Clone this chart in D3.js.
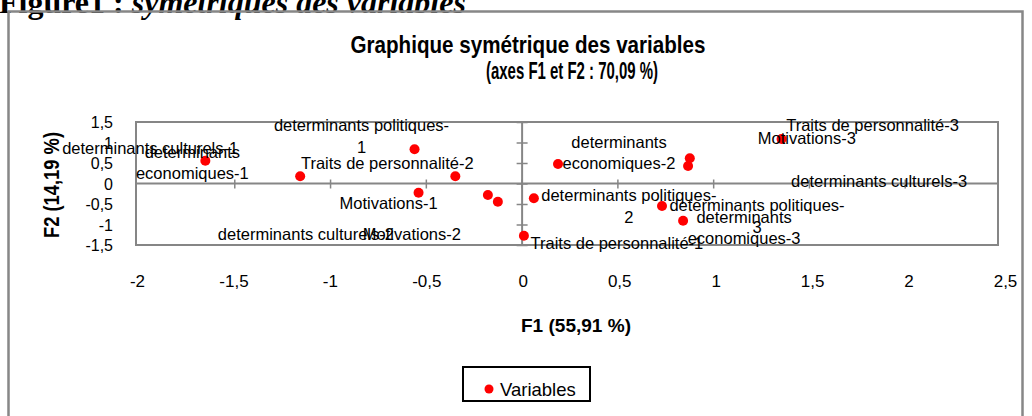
<!DOCTYPE html>
<html>
<head>
<meta charset="utf-8">
<script src="https://cdn.jsdelivr.net/npm/d3@7"></script>
<style>
  body { margin: 0; background: #fff; }
  svg { display: block; }
  text { font-family: "Liberation Sans", Arial, sans-serif; fill: #000; }
</style>
</head>
<body>
<div id="chart"></div>
<script>
// modalities of the variables (MCA, symmetric plot)
var varNames = [
  "determinants culturels-1", "determinants culturels-2", "determinants culturels-3",
  "determinants economiques-1", "determinants economiques-2", "determinants economiques-3",
  "determinants politiques-1", "determinants politiques-2", "determinants politiques-3",
  "Motivations-1", "Motivations-2", "Motivations-3",
  "Traits de personnalité-1", "Traits de personnalité-2", "Traits de personnalité-3"
];
var f1Values = [-1.156, -0.176, 0.869, -1.651, 0.190, 0.843, -0.559, 0.064, 0.733, -0.538, -0.124, 0.878, 0.012, -0.346, 1.357];
var f2Values = [0.176, -0.280, 0.427, 0.556, 0.476, -0.907, 0.834, -0.361, -0.549, -0.224, -0.444, 0.615, -1.273, 0.176, 1.085];

var xTicks = [-2, -1.5, -1, -0.5, 0, 0.5, 1, 1.5, 2, 2.5];
var yTicks = [-1.5, -1, -0.5, 0, 0.5, 1, 1.5];

// label placement (pixels from the point) and line wrapping
var labelOffsets = [[-150, -22], [-182, 45], [191, 21], [-13, -3], [61, -16], [61, 2],
  [-53, -18], [95, 3], [95, 5], [-30, 16], [-86, 38], [117, -14], [93, 13], [-68, -7], [91, -8]];
var labelWrap = [null, null, null, "sp", "sp", "sp", "hy", "hy", "hy", null, null, null, null, null, null];

var svgWidth = 1032;
var svgHeight = 416;

var plot = { left: 136, right: 998, top: 122, bottom: 245 };

var svg = d3.select("#chart")
  .append("svg")
  .attr("width", svgWidth)
  .attr("height", svgHeight);

// header of the figure, cut by the top of the page
var header = svg.append("text")
  .attr("x", -1)
  .attr("y", 13)
  .style("font-family", "'Liberation Serif', 'Times New Roman', serif")
  .style("font-size", "32px")
  .style("font-weight", "bold");
header.append("tspan").text("Figure1 : ");
header.append("tspan").style("font-style", "italic").text("symétriques des variables");

// outer chart frame
svg.append("rect")
  .attr("x", 8.5)
  .attr("y", 11.5)
  .attr("width", 1014)
  .attr("height", 430)
  .attr("fill", "none")
  .attr("stroke", "#878787")
  .attr("stroke-width", 2.5);

// title
svg.append("text")
  .attr("x", 528)
  .attr("y", 53)
  .attr("text-anchor", "middle")
  .attr("textLength", 355)
  .attr("lengthAdjust", "spacingAndGlyphs")
  .style("font-size", "24px")
  .style("font-weight", "bold")
  .text("Graphique symétrique des variables");

svg.append("text")
  .attr("x", 572)
  .attr("y", 79)
  .attr("text-anchor", "middle")
  .attr("textLength", 172)
  .attr("lengthAdjust", "spacingAndGlyphs")
  .style("font-size", "24px")
  .style("font-weight", "bold")
  .text("(axes F1 et F2 : 70,09 %)");

var xScale = d3.scaleLinear().domain([-2, 2.5]).range([138.5, 1000.5]);
var yScale = d3.scaleLinear().domain([-1.5, 1.5]).range([plot.bottom, plot.top]);
// the low tick labels run a little wider than the plot frame
var xLabelScale = xScale.copy().range([137, 1005]);

var fmt = function(d) { return String(d).replace(".", ","); };

// plot area frame
svg.append("rect")
  .attr("x", plot.left)
  .attr("y", plot.top)
  .attr("width", plot.right - plot.left)
  .attr("height", plot.bottom - plot.top)
  .attr("fill", "none")
  .attr("stroke", "#868686")
  .attr("stroke-width", 2);

// horizontal axis through y = 0 (ticks only)
var xAxisMarks = svg.append("g")
  .attr("transform", `translate(0, ${yScale(0)})`)
  .call(d3.axisBottom(xScale).tickValues(xTicks.slice(1, -1)).tickFormat("").tickSize(4).tickSizeOuter(0));
xAxisMarks.select(".domain").attr("d", `M${plot.left},0H${plot.right}`)
  .attr("stroke", "#868686").attr("stroke-width", 2);
xAxisMarks.selectAll(".tick line").attr("y1", -4).attr("y2", 5).attr("stroke", "#868686").attr("stroke-width", 1.5);

// vertical axis through x = 0 (ticks only)
var yAxisMarks = svg.append("g")
  .attr("transform", `translate(${xScale(0)}, 0)`)
  .call(d3.axisLeft(yScale).tickValues(yTicks).tickFormat("").tickSize(5).tickSizeOuter(0));
yAxisMarks.select(".domain").attr("stroke", "#868686").attr("stroke-width", 2);
yAxisMarks.selectAll(".tick line").attr("x1", -5).attr("x2", 6).attr("stroke", "#868686").attr("stroke-width", 1.5);

// tick labels, low position
var xLabels = svg.append("g")
  .attr("transform", "translate(0, 287)")
  .call(d3.axisBottom(xLabelScale).tickValues(xTicks).tickFormat(fmt).tickSize(0));
xLabels.select(".domain").remove();
xLabels.selectAll("text")
  .attr("y", 0)
  .attr("dy", 0)
  .style("font-family", "'Liberation Sans', Arial, sans-serif")
  .style("font-size", "17px");

var yLabels = svg.append("g")
  .attr("transform", "translate(113, 0)")
  .call(d3.axisLeft(yScale).tickValues(yTicks).tickFormat(fmt).tickSize(0));
yLabels.select(".domain").remove();
yLabels.selectAll("text")
  .attr("x", 0)
  .attr("dy", "0.35em")
  .style("font-family", "'Liberation Sans', Arial, sans-serif")
  .style("font-size", "16px");

// axis titles
svg.append("text")
  .attr("x", 576)
  .attr("y", 332)
  .attr("text-anchor", "middle")
  .attr("textLength", 110)
  .attr("lengthAdjust", "spacingAndGlyphs")
  .style("font-size", "19px")
  .style("font-weight", "bold")
  .text("F1 (55,91 %)");

svg.append("text")
  .attr("transform", "translate(59, 185) rotate(-90)")
  .attr("text-anchor", "middle")
  .attr("textLength", 106)
  .attr("lengthAdjust", "spacingAndGlyphs")
  .style("font-size", "22px")
  .style("font-weight", "bold")
  .text("F2 (14,19 %)");

// points
var points = varNames.map(function(name, i) {
  return { name: name, f1: f1Values[i], f2: f2Values[i], off: labelOffsets[i], wrap: labelWrap[i] };
});

svg.append("g").selectAll("circle")
  .data(points)
  .enter()
  .append("circle")
  .attr("cx", d => xScale(d.f1))
  .attr("cy", d => yScale(d.f2))
  .attr("r", 5)
  .attr("fill", "#ff0000");

function splitLabel(d) {
  if (d.wrap === "sp") {
    var k = d.name.indexOf(" ");
    return [d.name.slice(0, k), d.name.slice(k + 1)];
  }
  if (d.wrap === "hy") {
    var h = d.name.lastIndexOf("-");
    return [d.name.slice(0, h + 1), d.name.slice(h + 1)];
  }
  return [d.name];
}

var labelGroup = svg.append("g").selectAll("text")
  .data(points)
  .enter()
  .append("text")
  .attr("text-anchor", "middle")
  .style("font-size", "16.5px");

labelGroup.each(function(d) {
  var t = d3.select(this);
  var x = xScale(d.f1) + d.off[0];
  var y = yScale(d.f2) + d.off[1];
  splitLabel(d).forEach(function(line, j) {
    t.append("tspan")
      .attr("x", x)
      .attr("y", y + j * 21.5)
      .text(line);
  });
});

// legend
var legend = svg.append("g");
legend.append("rect")
  .attr("x", 463)
  .attr("y", 367)
  .attr("width", 127)
  .attr("height", 34)
  .attr("fill", "#fff")
  .attr("stroke", "#000")
  .attr("stroke-width", 2);
legend.append("circle")
  .attr("cx", 489)
  .attr("cy", 389)
  .attr("r", 4.5)
  .attr("fill", "#ff0000");
legend.append("text")
  .attr("x", 500)
  .attr("y", 396)
  .style("font-size", "18.5px")
  .text("Variables");
</script>
</body>
</html>
